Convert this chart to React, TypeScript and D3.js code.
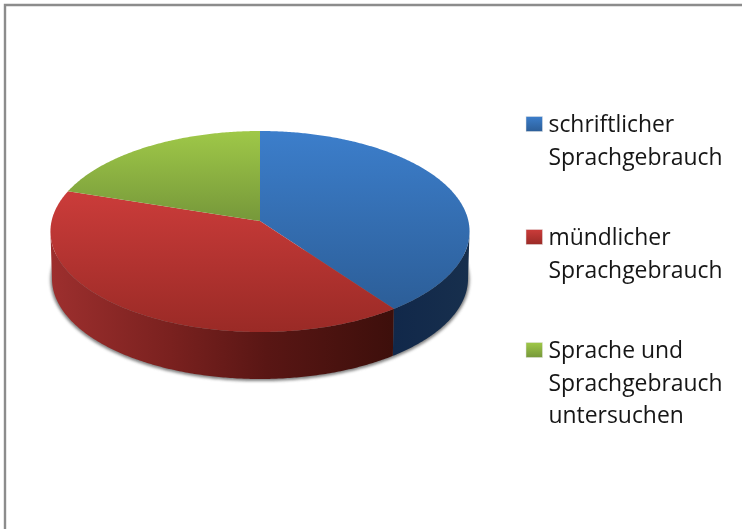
import React from "react";
import * as d3 from "d3";

const categories = ["schriftlicher Sprachgebrauch", "mündlicher Sprachgebrauch", "Sprache und Sprachgebrauch untersuchen"];
const seriesValues = [40, 40, 20];
const legendLines = [["schriftlicher", "Sprachgebrauch"], ["mündlicher", "Sprachgebrauch"], ["Sprache und", "Sprachgebrauch", "untersuchen"]];
const topColors = [["#3c7ecb", "#2c5e98"], ["#cb3c3a", "#9a2a26"], ["#9fc848", "#76983a"]];
const sideStops = [
  [["0", "#11284a"], ["1", "#172f4d"]],
  [["0", "#9d2f2e"], ["0.35", "#7a211f"], ["0.63", "#591614"], ["1", "#3d0f0b"]],
  [["0", "#000"], ["1", "#000"]],
];

const W = 742, H = 529;
const cx = 260, apexY = 221;
const R = 208.4, S = 99.4, K = 0.1045, depth = 47;

// Perspective projection of a unit-circle angle (clockwise from top) to the screen
const project = (a: number, r = R, s = S, dy = 0): [number, number] => {
  const u = Math.sin(a), v = Math.cos(a), w = 1 + K * v;
  return [cx + (r * u) / w, apexY + dy - (s * v) / w];
};
const visFrom = Math.atan2(Math.sqrt(1 - K * K), -K);
const visTo = 2 * Math.PI - visFrom;
const samples = (a0: number, a1: number) => {
  const n = Math.max(2, Math.ceil((a1 - a0) / 0.01));
  return d3.range(n + 1).map((i) => a0 + ((a1 - a0) * i) / n);
};
const line = d3.line<[number, number]>().curve(d3.curveLinear);

export default function App() {
  const arcs = d3.pie<number>().sort(null).startAngle(0).endAngle(2 * Math.PI)(seriesValues);
  const sides = arcs.map((d) => {
    const a0 = Math.max(d.startAngle, visFrom), a1 = Math.min(d.endAngle, visTo);
    if (a1 <= a0) return null;
    const upper = samples(a0, a1).map((a) => project(a));
    const lower = samples(a0, a1).reverse().map((a) => project(a, R - 1.5, S, depth));
    return { d: line([...upper, ...lower])! + "Z", x0: d3.min(upper, (p) => p[0])!, x1: d3.max(upper, (p) => p[0])! };
  });
  const tops = arcs.map((d) => line([[cx, apexY], ...samples(d.startAngle, d.endAngle).map((a) => project(a))])! + "Z");
  const shadow = line(samples(visFrom - 0.3, visTo + 0.3).map((a) => project(a, R, S + 1, depth + 1)))! + "Z";
  const groupY = [132, 245, 358];
  return (
    <svg width={W} height={H} viewBox={`0 0 ${W} ${H}`} style={{ position: "fixed", left: 0, top: 0, background: "#fff" }}>
      <defs>
        <filter id="soft" x="-5%" y="-5%" width="110%" height="110%"><feGaussianBlur stdDeviation="1.6" /></filter>
        <filter id="txt" x="-5%" y="-5%" width="110%" height="110%"><feGaussianBlur stdDeviation="0.3" /></filter>
        {topColors.map((c, i) => (
          <linearGradient key={i} id={`top${i}`} x1="0" y1="0" x2="0" y2="1">
            <stop offset="0" stopColor={c[0]} />
            <stop offset="1" stopColor={c[1]} />
          </linearGradient>
        ))}
        {sides.map((s, i) => s && (
          <linearGradient key={i} id={`side${i}`} gradientUnits="userSpaceOnUse" x1={s.x0} x2={s.x1} y1="0" y2="0">
            {sideStops[i].map(([o, c]) => <stop key={o} offset={o} stopColor={c} />)}
          </linearGradient>
        ))}
      </defs>
      <path d="M5 529V5H742" fill="none" stroke="#8c8c8c" strokeWidth="2.4" />
      <path d={shadow} fill="#555" opacity="0.75" filter="url(#soft)" />
      {sides.map((s, i) => s && <path key={i} d={s.d} fill={`url(#side${i})`} />)}
      {tops.map((d, i) => <path key={categories[i]} d={d} fill={`url(#top${i})`} />)}
      {legendLines.map((lines, i) => (
        <g key={i}>
          <rect x={526} y={groupY[i] - 15.5} width={16.5} height={15} fill={`url(#top${i})`} stroke="#e4e4e4" strokeWidth="0.5" />
          <text fontFamily="'Open Sans', 'Noto Sans', sans-serif" fontSize={22.9} fill="#141414" filter="url(#txt)">
            {lines.map((t, j) => <tspan key={j} x={548.5} y={groupY[i] + j * 32.5}>{t}</tspan>)}
          </text>
        </g>
      ))}
    </svg>
  );
}
